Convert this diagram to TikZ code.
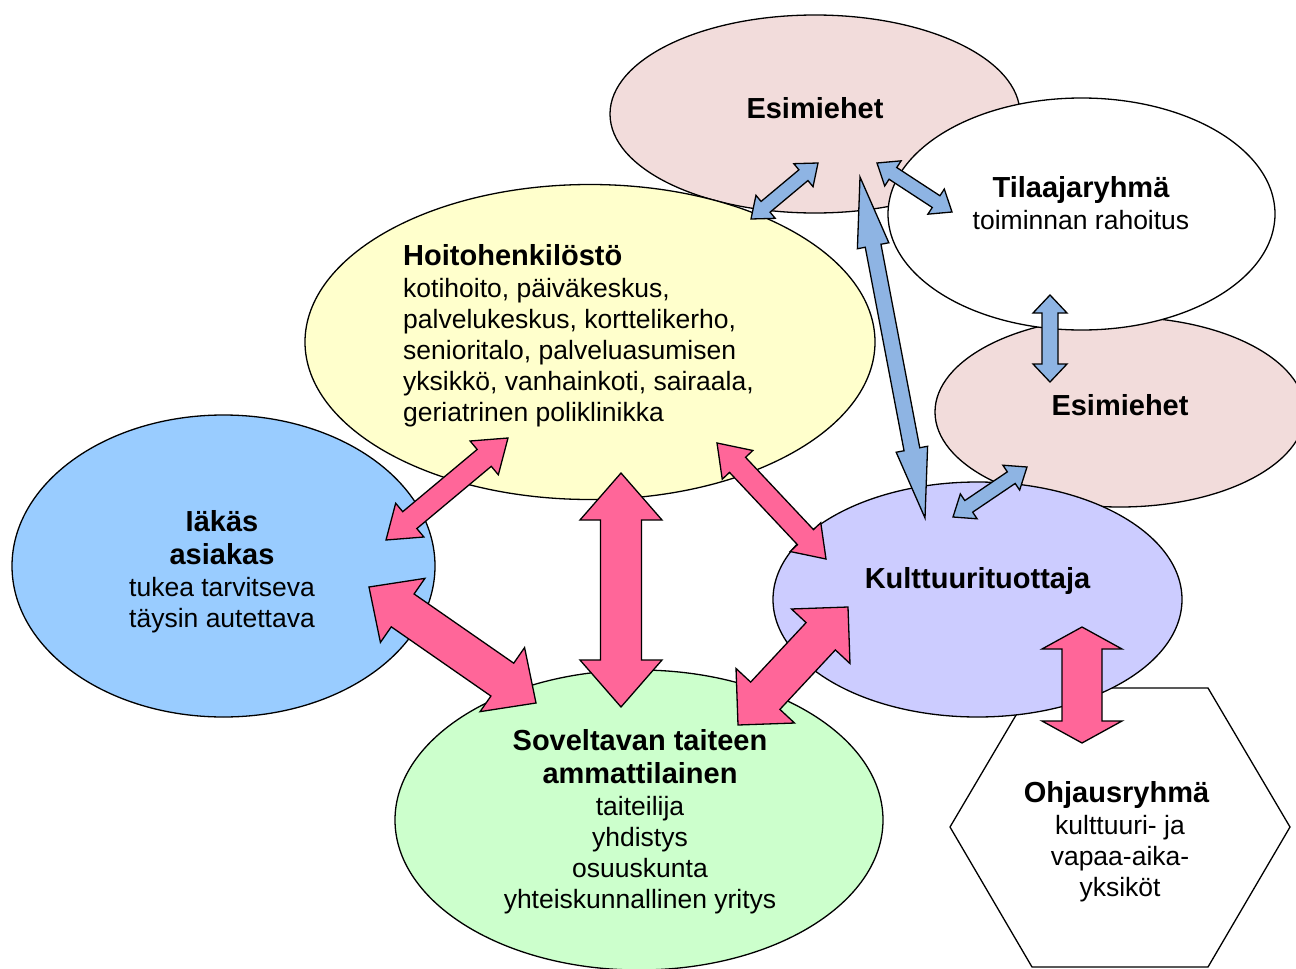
\documentclass[tikz,border=0pt]{standalone}
\usepackage{fontspec}
\setmainfont{Liberation Sans}
\usetikzlibrary{shapes.geometric,calc}
\definecolor{esimfill}{HTML}{F2DCDB}
\definecolor{hoitofill}{HTML}{FFFFCC}
\definecolor{asiakasfill}{HTML}{99CCFF}
\definecolor{kulttfill}{HTML}{CCCCFF}
\definecolor{sovfill}{HTML}{CCFFCC}
\definecolor{arrowpink}{HTML}{FF6699}
\definecolor{arrowblue}{HTML}{8EB4E3}
\newcommand{\bhead}[1]{{\bfseries\fontsize{29}{33}\selectfont #1}}
% #1 style, #2 start, #3 end, #4 head length, #5 head half width, #6 shaft half width
\newcommand{\dblarrow}[6]{%
  \coordinate (pa) at ($(#2)!#4!(#3)$);
  \coordinate (pb) at ($(#3)!#4!(#2)$);
  \draw[#1] (#2) -- ($(pa)!#5!90:(#3)$) -- ($(pa)!#6!90:(#3)$)
    -- ($(pb)!#6!-90:(#2)$) -- ($(pb)!#5!-90:(#2)$) -- (#3)
    -- ($(pb)!#5!90:(#2)$) -- ($(pb)!#6!90:(#2)$)
    -- ($(pa)!#6!-90:(#3)$) -- ($(pa)!#5!-90:(#3)$) -- cycle;
}
\begin{document}
\begin{tikzpicture}[x=1pt,y=-1pt,
  blob/.style={ellipse, draw=black, line width=1.3pt, inner sep=0pt},
  parrow/.style={fill=arrowpink, draw=black, line width=1.3pt, line join=miter},
  barrow/.style={fill=arrowblue, draw=black, line width=1.3pt, line join=miter},
  txt/.style={font=\fontsize{26.5}{31}\selectfont, align=center, inner sep=0pt},
  ttl/.style={font=\bfseries\fontsize{29}{33}\selectfont, inner sep=0pt, anchor=base}]
\useasboundingbox (0,0) rectangle (1296,969);
\clip (0,0) rectangle (1296,969);

% shapes
\node[blob, fill=esimfill, minimum width=410pt, minimum height=198pt] (esimA) at (815,114) {};
\node[blob, fill=esimfill, minimum width=370pt, minimum height=190pt] (esimB) at (1120,412) {};
\node[blob, fill=white, minimum width=387pt, minimum height=232pt] (tilaaja) at (1081.5,214) {};
\node[blob, fill=hoitofill, minimum width=570pt, minimum height=315pt] (hoito) at (590,342) {};
\node[blob, fill=asiakasfill, minimum width=423pt, minimum height=302pt] (asiakas) at (223.5,566) {};
\draw[line width=1.3pt, fill=white] (950,827) -- (1032,688) -- (1208,688) -- (1290,827) -- (1208,967) -- (1032,967) -- cycle;
\node[blob, fill=kulttfill, minimum width=409pt, minimum height=235pt] (kultt) at (977.5,599.5) {};
\node[blob, fill=sovfill, minimum width=488pt, minimum height=300pt] (sov) at (639,820) {};

% texts
\node[ttl] (esimAt) at (815,118) {Esimiehet};
\node[txt] (tilaajat) at (1081,203) {\bhead{Tilaajaryhmä}\\[1pt] toiminnan rahoitus};
\node[ttl] (esimBt) at (1120,415) {Esimiehet};
\node[txt, align=left, anchor=west] (hoitot) at (403,336) {\bhead{Hoitohenkilöstö}\\[1pt]
  kotihoito, päiväkeskus,\\ palvelukeskus, korttelikerho,\\ senioritalo, palveluasumisen\\
  yksikkö, vanhainkoti, sairaala,\\ geriatrinen poliklinikka};
\node[txt] (asiakast) at (222,572) {\bhead{Iäkäs}\\[2pt] \bhead{asiakas}\\[1pt] tukea tarvitseva\\ täysin autettava};
\node[ttl] (kulttt) at (977.5,588) {Kulttuurituottaja};
\node[txt] (sovt) at (640,822) {\bhead{Soveltavan taiteen}\\[2pt] \bhead{ammattilainen}\\[1pt] taiteilija\\ yhdistys\\ osuuskunta\\ yhteiskunnallinen yritys};
\node[txt] (ohjaus) at (1120,842) {\bhead{Ohjausryhmä}\hspace*{7pt}\\[1pt] kulttuuri- ja\\ vapaa-aika-\\ yksiköt};

% arrow end points
\coordinate (p1a) at (508,438); \coordinate (p1b) at (386,540);
\coordinate (p2a) at (717,443); \coordinate (p2b) at (826,559);
\coordinate (p3a) at (369,587); \coordinate (p3b) at (536,703);
\coordinate (p4a) at (848,607); \coordinate (p4b) at (738,725);
\coordinate (p5a) at (621,473); \coordinate (p5b) at (621,707);
\coordinate (p6a) at (1082,627); \coordinate (p6b) at (1082,743);
\coordinate (b1a) at (818,163); \coordinate (b1b) at (751,219);
\coordinate (b2a) at (877,163); \coordinate (b2b) at (952,212);
\coordinate (b3a) at (860,177); \coordinate (b3b) at (925,518);
\coordinate (b4a) at (1027,467); \coordinate (b4b) at (953,517);
\coordinate (b5a) at (1050,295); \coordinate (b5b) at (1050,382);

% pink arrows
\dblarrow{parrow}{p1a}{p1b}{31pt}{22pt}{11pt}
\dblarrow{parrow}{p2a}{p2b}{30pt}{21pt}{11pt}
\dblarrow{parrow}{p3a}{p3b}{41pt}{39pt}{20pt}
\dblarrow{parrow}{p4a}{p4b}{40pt}{40pt}{20pt}
\dblarrow{parrow}{p5a}{p5b}{47pt}{41pt}{20.5pt}
\dblarrow{parrow}{p6a}{p6b}{22pt}{40pt}{20pt}
% blue arrows
\dblarrow{barrow}{b1a}{b1b}{19pt}{15pt}{7pt}
\dblarrow{barrow}{b2a}{b2b}{19pt}{15pt}{7pt}
\dblarrow{barrow}{b3a}{b3b}{70pt}{16pt}{8pt}
\dblarrow{barrow}{b4a}{b4b}{19pt}{15pt}{7pt}
\dblarrow{barrow}{b5a}{b5b}{18pt}{17pt}{8pt}
\end{tikzpicture}
\end{document}
